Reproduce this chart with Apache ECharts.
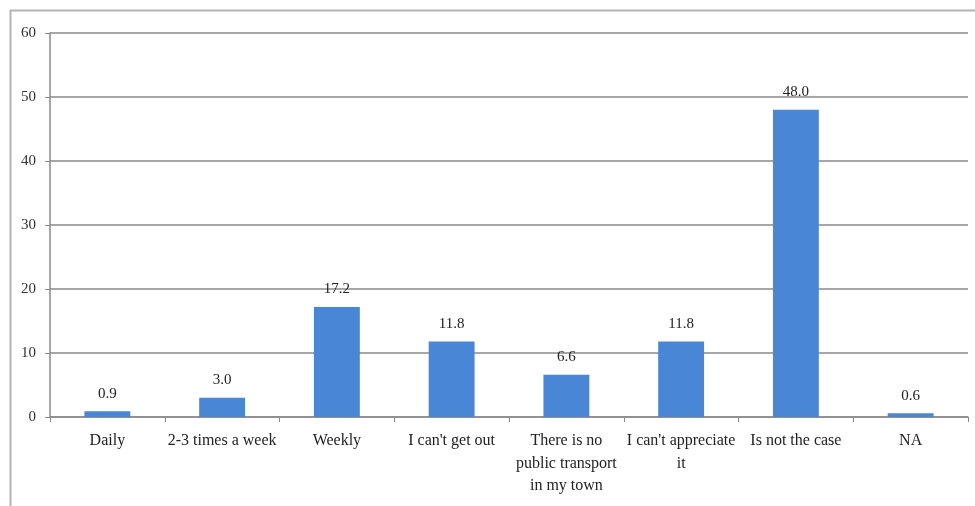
<!DOCTYPE html>
<html><head><meta charset="utf-8">
<script src="https://cdn.jsdelivr.net/npm/echarts@6/dist/echarts.min.js"></script>
<style>html,body{margin:0;padding:0;background:#fff}#c{width:975px;height:506px}</style>
</head><body><div id="c"></div>
<script>
const categories = ["Daily", "2-3 times a week", "Weekly", "I can't get out", "There is no\npublic transport\nin my town", "I can't appreciate\nit", "Is not the case", "NA"];
const values = [0.9, 3.0, 17.2, 11.8, 6.6, 11.8, 48.0, 0.6];
const yTicks = [0, 10, 20, 30, 40, 50, 60];

const chart = echarts.init(document.getElementById('c'), null, {renderer: 'canvas'});
const font = '"Liberation Serif", "Times New Roman", serif';
chart.setOption({
  animation: false,
  backgroundColor: '#fff',
  graphic: [{
    type: 'rect', left: 8, top: 8, shape: {width: 975, height: 510},
    style: {fill: 'none', stroke: '#b4b4b4', lineWidth: 2}, silent: true
  }],
  grid: {left: 50, right: 7, top: 33, bottom: 89, containLabel: false},
  xAxis: {
    type: 'category', data: categories,
    axisLine: {lineStyle: {color: '#8a8a8a', width: 1.5}},
    axisTick: {show: true, length: 5, alignWithLabel: false, lineStyle: {color: '#8a8a8a'}},
    axisLabel: {fontFamily: font, fontSize: 16, color: '#222', margin: 13, lineHeight: 22.5, interval: 0}
  },
  yAxis: {
    type: 'value', min: yTicks[0], max: yTicks[yTicks.length - 1], interval: 10,
    axisLine: {show: true, lineStyle: {color: '#8a8a8a', width: 1.5}},
    axisTick: {show: true, length: 5, lineStyle: {color: '#8a8a8a'}},
    axisLabel: {fontFamily: font, fontSize: 15, color: '#333', margin: 14},
    splitLine: {show: true, lineStyle: {color: '#8a8a8a', width: 1.5}}
  },
  series: [{
    type: 'bar', data: values, barWidth: '40%',
    itemStyle: {color: '#4a86d6'},
    label: {show: true, position: 'top', distance: 10, fontFamily: font, fontSize: 15, color: '#222',
      formatter: p => p.value.toFixed(1)}
  }]
});
</script></body></html>
